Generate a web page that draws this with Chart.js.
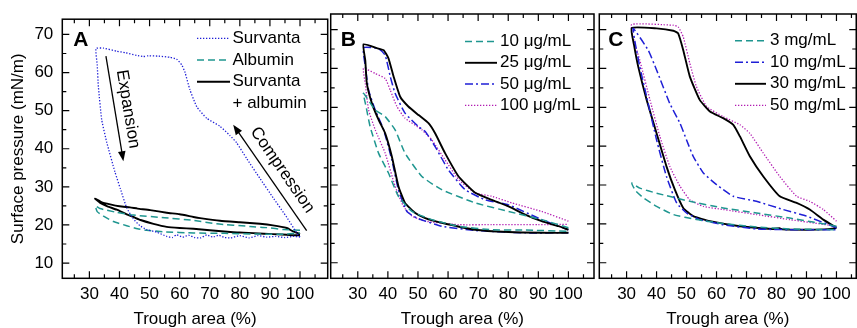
<!DOCTYPE html>
<html>
<head>
<meta charset="utf-8">
<script src="https://cdn.jsdelivr.net/npm/chart.js@4.4.1/dist/chart.umd.min.js"></script>
<style>
  html, body { margin: 0; padding: 0; background: #fff; }
  #wrap { position: relative; width: 857px; height: 328px; overflow: hidden; }
  canvas { position: absolute; top: 0; }
</style>
</head>
<body>
<div id="wrap">
  <canvas id="chartA" width="330" height="328" style="left:0"></canvas>
  <canvas id="chartB" width="268" height="328" style="left:329px"></canvas>
  <canvas id="chartC" width="260" height="328" style="left:597px"></canvas>
</div>
<script>
// ---- shared ticks ----
const xTicks = [30, 40, 50, 60, 70, 80, 90, 100];
const yTicks = [10, 20, 30, 40, 50, 60, 70];

// ---- Panel A: compression branch (100 -> 32) then expansion branch (32 -> 100) ----
const survantaX = [100, 99.4, 95.6, 91.1, 86.7, 82.3, 78.9, 76.7, 73.4, 69.0, 65.7, 63.4, 61.8, 60.7, 59.0, 56.8, 53.0, 49.6, 47.9, 45.7, 42.0, 39.1, 34.7, 32.2,
  32.6, 33.0, 34.1, 35.8, 38.5, 40.3, 42.4, 44.6, 46.8, 49.0, 52.4, 55.7, 57.5, 59, 61, 63, 65, 67, 69, 71, 73, 75, 77, 80, 83, 86, 89, 92, 95, 98, 100];
const survantaY = [16.8, 17.3, 22.0, 27.1, 32.2, 37.4, 41.6, 43.5, 45.9, 48.0, 51.0, 55.5, 60.0, 62.0, 63.5, 64.0, 64.3, 64.4, 64.2, 64.5, 65.2, 65.6, 66.4, 66.3,
  62.0, 56.2, 47.6, 41.6, 33.9, 29.5, 24.5, 21.6, 19.8, 18.8, 18.1, 17.0, 16.7, 17.4, 16.8, 17.3, 16.7, 16.6, 17.4, 16.8, 17.3, 16.7, 16.6, 17.2, 16.6, 17.2, 16.8, 17.0, 16.7, 17.0, 16.8];
const albuminX = [100, 94.5, 89, 83.4, 72.3, 64.6, 55, 44.6, 39.1, 33.5, 32,
  32.6, 34.7, 38, 42.4, 46, 49, 55, 64.6, 75, 86.7, 95, 100];
const albuminY = [18.6, 18.8, 19.3, 19.6, 20.3, 21.2, 21.9, 22.6, 23.3, 24.3, 25.0,
  23.5, 22.3, 20.9, 19.8, 19.0, 18.6, 18.2, 17.9, 17.8, 17.6, 17.6, 17.9];
const mixX = [100, 97.5, 95.6, 91, 86.7, 80, 73.4, 66.8, 64.6, 60, 55.7, 50.2, 46, 43.5, 40, 36.9, 34, 31.9,
  33.6, 36, 39.1, 42.4, 44.6, 47, 51.3, 55.7, 60, 64.6, 70, 77.8, 81.2, 88, 94, 97.8, 100];
const mixY = [17.6, 18.4, 19.2, 19.9, 20.3, 20.7, 21.1, 21.8, 22.1, 22.8, 23.2, 23.9, 24.3, 24.6, 24.9, 25.4, 26.0, 26.9,
  25.8, 24.9, 24.0, 22.8, 22.1, 21.3, 20.3, 19.5, 19.2, 19.0, 18.6, 18.1, 18.0, 17.7, 17.5, 17.3, 17.3];

// ---- Panel B (µg/mL) ----
const b10X = [100, 91.1, 80.1, 69, 57.9, 51.3, 45.7, 42.4, 39.1, 35.8, 31.9,
  32.8, 34.1, 36.9, 40.2, 43.5, 48, 54.6, 63.5, 74.5, 85.6, 100];
const b10Y = [19.0, 21.1, 23.2, 25.4, 28.8, 32.2, 38.2, 44.2, 47.6, 49.3, 53.6,
  50.0, 45.0, 38.2, 33.1, 27.1, 23.2, 21.1, 19.4, 18.5, 18.4, 18.1];
const b25X = [100, 96.7, 91.1, 85.6, 80.1, 74.5, 69.0, 63.5, 59.0, 55.7, 53.5, 50.2, 46.8, 44.1, 41.9, 40.2, 38.6, 36.9, 31.9,
  32.5, 33.0, 34.7, 36.9, 39.1, 41.3, 43.5, 45.7, 49.1, 52.4, 57.9, 69, 80.1, 91.1, 100];
const b25Y = [18.5, 19.4, 20.7, 22.4, 24.5, 26.2, 28.0, 32.2, 38.2, 43.3, 45.9, 48.0, 50.2, 52.7, 57.9, 62.6, 64.7, 65.1, 66.2,
  62.0, 56.2, 51.0, 46.8, 43.3, 37.4, 29.7, 25.4, 22.8, 21.5, 20.3, 18.5, 17.9, 17.7, 17.7];
const b50X = [100, 91.1, 80.1, 72.3, 65.7, 60.1, 55.7, 52.4, 50.2, 45.7, 42.4, 40.8, 39.1, 36.9, 31.9,
  32.6, 33.6, 35.8, 38.6, 41.3, 43.5, 46.3, 49.6, 57.9, 69, 85.6, 100];
const b50Y = [18.5, 21.1, 24.9, 26.2, 28.8, 33.9, 39.9, 43.8, 45.0, 48.5, 53.6, 57.9, 63.4, 65.1, 65.3,
  60.0, 54.4, 49.3, 44.2, 36.5, 28.8, 23.2, 21.5, 19.4, 18.3, 17.7, 17.7];
const b100X = [100, 91.1, 81.2, 74.5, 69, 63.5, 59, 54.6, 51.3, 45.7, 43, 40.8, 39.1, 35.8, 31.9,
  32.5, 33.6, 35.8, 39.1, 42.4, 45.2, 48, 52.4, 63.5, 74.5, 90, 100];
const b100Y = [20.7, 23.2, 25.4, 27.1, 28.0, 31.4, 36.5, 41.6, 44.2, 47.2, 50.2, 54.4, 57.4, 58.7, 60.0,
  56.0, 49.3, 44.2, 38.2, 29.7, 24.5, 22.0, 20.7, 19.8, 19.8, 19.8, 19.9];

// ---- Panel C (mg/mL) ----
const c3X = [100, 84.4, 73.3, 62.2, 51.1, 40, 34.4, 31.7,
  33, 35.6, 40, 45.6, 53.3, 62.2, 73.3, 84.4, 100];
const c3Y = [19.4, 21.5, 22.8, 24.1, 25.8, 27.9, 29.2, 30.5,
  28.5, 26.7, 24.5, 22.4, 21.1, 20.1, 19.2, 18.7, 18.5];
const c10X = [100, 90, 82.2, 73.3, 65.6, 60, 55.6, 52.2, 50, 47.8, 44.4, 40, 37.2, 32.2,
  33, 34.4, 36.7, 40, 43.3, 46.7, 50, 54.4, 62.2, 73.3, 84.4, 100];
const c10Y = [19.0, 22.0, 23.7, 25.8, 27.1, 30.1, 33.1, 37.4, 41.6, 45.9, 51.0, 59.6, 64.7, 70.3,
  66.0, 60.4, 52.7, 41.6, 32.2, 25.4, 22.8, 21.1, 19.8, 18.7, 18.5, 18.5];
const c30X = [100, 95.6, 91.1, 86.7, 81.1, 75.6, 71.1, 67.8, 65.6, 62.2, 57.8, 54.4, 51.1, 48.9, 47.2, 45.6, 40, 31.7,
  32.5, 33.9, 36.7, 40, 43.3, 46.1, 48.9, 52.2, 57.8, 67.8, 78.9, 81, 82, 90, 96, 100];
const c30Y = [19.0, 21.1, 23.7, 25.4, 27.1, 32.2, 37.4, 42.5, 45.5, 47.2, 48.9, 51.9, 57.9, 64.7, 69.0, 69.7, 70.3, 70.4,
  66.0, 60.4, 51.9, 43.3, 34.8, 28.8, 24.1, 22.0, 20.7, 19.4, 18.7, 18.9, 18.6, 18.5, 18.6, 18.9];
const c50X = [100, 95.6, 91.1, 86.7, 81.1, 75.6, 71.1, 67.8, 62.2, 56.7, 53.3, 51.1, 48.9, 47.2, 45.6, 31.7,
  32.5, 34.4, 37.8, 41.1, 44.4, 47.8, 51.1, 55.6, 62.2, 73.3, 84.4, 100];
const c50Y = [20.7, 23.7, 25.8, 27.1, 32.2, 38.2, 43.3, 45.5, 47.6, 50.2, 55.3, 61.3, 68.1, 70.7, 71.1, 71.3,
  67.0, 62.1, 51.9, 42.5, 34.8, 29.7, 26.2, 24.5, 23.7, 22.4, 21.1, 19.4];

Chart.defaults.font.family = '"Liberation Sans", Arial, sans-serif';
Chart.defaults.color = '#000';

const BLUE = '#1f1fd6', TEAL = '#1f9690', MAGENTA = '#b21cb2';
const dotBlue = { borderColor: BLUE, borderWidth: 1.3, borderDash: [1.3, 1.7] };
const dashTeal = { borderColor: TEAL, borderWidth: 1.5, borderDash: [7, 4] };
const dashDot = { borderColor: BLUE, borderWidth: 1.5, borderDash: [8, 3, 2, 3] };
const solid = { borderColor: '#000', borderWidth: 1.9, borderDash: [] };
const dotMag = { borderColor: MAGENTA, borderWidth: 1.3, borderDash: [1.3, 1.7] };

const pts = (xs, ys) => xs.map((x, i) => ({ x, y: ys[i] }));
const series = (label, xs, ys, style) => ({
  label, data: pts(xs, ys), ...style,
  showLine: true, pointRadius: 0, tension: 0.15, fill: false
});

// frame with inward major/minor ticks on all four sides
const framePlugin = {
  id: 'frame',
  afterDatasetsDraw(chart) {
    const { ctx, chartArea: a, scales: { x, y } } = chart;
    ctx.save();
    ctx.strokeStyle = '#000';
    ctx.lineWidth = 1.5;
    ctx.strokeRect(a.left, a.top, a.right - a.left, a.bottom - a.top);
    ctx.lineWidth = 1.2;
    ctx.beginPath();
    for (let v = 25; v <= 105; v += 5) {
      if (v < x.min || v > x.max) continue;
      const px = x.getPixelForValue(v), len = v % 10 === 0 ? 7 : 4;
      ctx.moveTo(px, a.bottom); ctx.lineTo(px, a.bottom - len);
      ctx.moveTo(px, a.top); ctx.lineTo(px, a.top + len);
    }
    for (let v = 10; v <= 70; v += 5) {
      const py = y.getPixelForValue(v), len = v % 10 === 0 ? 7 : 4;
      ctx.moveTo(a.left, py); ctx.lineTo(a.left + len, py);
      ctx.moveTo(a.right, py); ctx.lineTo(a.right - len, py);
    }
    ctx.stroke();
    ctx.restore();
  }
};

// panel letter, in-plot legend and arrows
const decoPlugin = {
  id: 'panelDeco',
  afterDraw(chart, args, opts) {
    const { ctx, scales: { x, y } } = chart;
    ctx.save();
    ctx.fillStyle = '#000';
    ctx.font = 'bold 21px "Liberation Sans", Arial, sans-serif';
    ctx.textBaseline = 'alphabetic';
    ctx.fillText(opts.letter, opts.letterX, 46);

    ctx.font = '17px "Liberation Sans", Arial, sans-serif';
    ctx.textBaseline = 'middle';
    opts.rows.forEach(r => {
      if (r.ds !== undefined) {
        const ds = chart.data.datasets[r.ds];
        ctx.strokeStyle = ds.borderColor;
        ctx.lineWidth = ds.borderWidth;
        ctx.setLineDash(ds.borderDash);
        ctx.beginPath();
        ctx.moveTo(opts.lineX0, r.y);
        ctx.lineTo(opts.lineX1, r.y);
        ctx.stroke();
        ctx.setLineDash([]);
      }
      ctx.fillText(r.text, opts.textX, r.y);
    });

    (opts.arrows || []).forEach(ar => {
      const x0 = x.getPixelForValue(ar.from[0]), y0 = y.getPixelForValue(ar.from[1]);
      const x1 = x.getPixelForValue(ar.to[0]), y1 = y.getPixelForValue(ar.to[1]);
      const ang = Math.atan2(y1 - y0, x1 - x0);
      ctx.strokeStyle = '#000';
      ctx.lineWidth = 1.3;
      ctx.beginPath();
      ctx.moveTo(x0, y0);
      ctx.lineTo(x1 - 6 * Math.cos(ang), y1 - 6 * Math.sin(ang));
      ctx.stroke();
      ctx.beginPath();
      ctx.moveTo(x1, y1);
      ctx.lineTo(x1 - 10 * Math.cos(ang) + 3.8 * Math.sin(ang), y1 - 10 * Math.sin(ang) - 3.8 * Math.cos(ang));
      ctx.lineTo(x1 - 10 * Math.cos(ang) - 3.8 * Math.sin(ang), y1 - 10 * Math.sin(ang) + 3.8 * Math.cos(ang));
      ctx.closePath();
      ctx.fill();
      let ta = ang;
      if (Math.cos(ta) < 0) ta += Math.PI;
      ctx.save();
      ctx.translate(x.getPixelForValue(ar.textAt[0]), y.getPixelForValue(ar.textAt[1]));
      ctx.rotate(ta);
      ctx.textAlign = 'center';
      ctx.fillText(ar.text, 0, 0);
      ctx.restore();
    });
    ctx.restore();
  }
};

function makePanel(id, datasets, cfg) {
  return new Chart(document.getElementById(id), {
    type: 'scatter',
    data: { datasets },
    options: {
      responsive: false,
      animation: false,
      events: [],
      layout: { padding: { top: 14, right: cfg.padRight, bottom: 0, left: 0 } },
      scales: {
        x: {
          type: 'linear', min: cfg.xMin, max: cfg.xMax,
          afterBuildTicks: s => { s.ticks = xTicks.map(v => ({ value: v })); },
          afterFit: s => { s.height = 49.7; },
          grid: { display: false, drawTicks: false },
          border: { display: false },
          ticks: { padding: 6.3, font: { size: 17 }, autoSkip: false, maxRotation: 0 },
          title: { display: true, text: 'Trough area (%)', font: { size: 17 }, padding: { top: 0, bottom: -1.8 } }
        },
        y: {
          type: 'linear', min: 6, max: 74,
          afterBuildTicks: s => { s.ticks = yTicks.map(v => ({ value: v })); },
          afterFit: s => { s.width = cfg.yWidth; },
          grid: { display: false, drawTicks: false },
          border: { display: false },
          ticks: { display: cfg.yLabels, padding: 9, font: { size: 17 } },
          title: { display: cfg.yLabels, text: 'Surface pressure (mN/m)', font: { size: 17 }, padding: { top: 8.3, bottom: 0 } }
        }
      },
      plugins: {
        legend: { display: false },
        tooltip: { enabled: false },
        panelDeco: cfg.deco
      }
    },
    plugins: [framePlugin, decoPlugin]
  });
}

makePanel('chartA', [
  series('Survanta', survantaX, survantaY, dotBlue),
  series('Albumin', albuminX, albuminY, dashTeal),
  series('Survanta + albumin', mixX, mixY, solid)
], {
  xMin: 21, xMax: 109.2, yWidth: 62.3, padRight: 2.3, yLabels: true,
  deco: {
    letter: 'A', letterX: 73.3, lineX0: 197, lineX1: 230, textX: 232.5,
    rows: [
      { ds: 0, y: 38.3, text: 'Survanta' },
      { ds: 1, y: 60, text: 'Albumin' },
      { ds: 2, y: 81.7, text: 'Survanta' },
      { y: 103.3, text: '+ albumin' }
    ],
    arrows: [
      { from: [35.5, 64.3], to: [41.3, 36.7], text: 'Expansion', textAt: [42.8, 50.4] },
      { from: [102.2, 18.5], to: [77.8, 46.3], text: 'Compression', textAt: [94.1, 34.4] }
    ]
  }
});

makePanel('chartB', [
  series('10 μg/mL', b10X, b10Y, dashTeal),
  series('25 μg/mL', b25X, b25Y, solid),
  series('50 μg/mL', b50X, b50Y, dashDot),
  series('100 μg/mL', b100X, b100Y, dotMag)
], {
  xMin: 21, xMax: 108.5, yWidth: 1.7, padRight: 3, yLabels: false,
  deco: {
    letter: 'B', letterX: 11.7, lineX0: 136, lineX1: 168, textX: 171,
    rows: [
      { ds: 0, y: 41.5, text: '10 μg/mL' },
      { ds: 1, y: 62.8, text: '25 μg/mL' },
      { ds: 2, y: 84.1, text: '50 μg/mL' },
      { ds: 3, y: 105.4, text: '100 μg/mL' }
    ]
  }
});

makePanel('chartC', [
  series('3 mg/mL', c3X, c3Y, dashTeal),
  series('10 mg/mL', c10X, c10Y, dashDot),
  series('30 mg/mL', c30X, c30Y, solid),
  series('50 mg/mL', c50X, c50Y, dotMag)
], {
  xMin: 20.9, xMax: 106.6, yWidth: 2.3, padRight: 0.7, yLabels: false,
  deco: {
    letter: 'C', letterX: 11.3, lineX0: 138, lineX1: 169, textX: 173,
    rows: [
      { ds: 0, y: 40.8, text: '3 mg/mL' },
      { ds: 1, y: 62.3, text: '10 mg/mL' },
      { ds: 2, y: 83.8, text: '30 mg/mL' },
      { ds: 3, y: 105.3, text: '50 mg/mL' }
    ]
  }
});
</script>
</body>
</html>
